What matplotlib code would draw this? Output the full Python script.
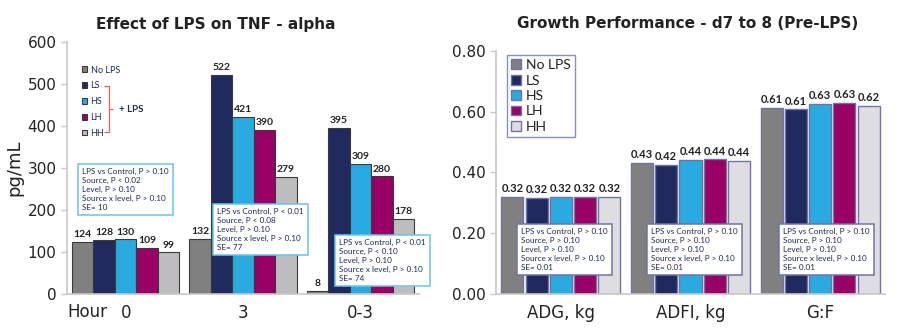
import matplotlib

matplotlib.use("Agg")
import matplotlib.pyplot as plt
import numpy as np

# --- data -------------------------------------------------------------------
treatments = ["No LPS", "LS", "HS", "LH", "HH"]

tnf_hours = ["0", "3", "0-3"]
tnf_no_lps = [124, 132, 8]
tnf_ls = [128, 522, 395]
tnf_hs = [130, 421, 309]
tnf_lh = [109, 390, 280]
tnf_hh = [99, 279, 178]

growth_traits = ["ADG, kg", "ADFI, kg", "G:F"]
growth_no_lps = [0.32, 0.432, 0.612]
growth_ls = [0.316, 0.424, 0.608]
growth_hs = [0.32, 0.442, 0.626]
growth_lh = [0.32, 0.443, 0.628]
growth_hh = [0.32, 0.437, 0.619]

tnf_stats = [
    ["LPS vs Control, P > 0.10", "Source, P < 0.02", "Level, P > 0.10",
     "Source x level, P > 0.10", "SE= 10"],
    ["LPS vs Control, P < 0.01", "Source, P < 0.08", "Level, P > 0.10",
     "Source x level, P > 0.10", "SE= 77"],
    ["LPS vs Control, P < 0.01", "Source, P < 0.10", "Level, P > 0.10",
     "Source x level, P > 0.10", "SE= 74"],
]
growth_stats = [
    ["LPS vs Control, P > 0.10", "Source, P > 0.10", "Level, P > 0.10",
     "Source x level, P > 0.10", "SE= 0.01"],
] * 3

# --- style ------------------------------------------------------------------
NAVY = "#1f2a5c"
left_colors = ["#808080", "#202a5e", "#29abe2", "#990066", "#bdbdc0"]
right_colors = ["#808080", "#202a5e", "#29abe2", "#990066", "#dedde2"]
SPINE = "#c8c8c8"
TXT = "#222222"
STAT_SIZE = 5.9

fig = plt.figure(figsize=(9, 3.34), dpi=100)
W, H = 900, 334


def px_axes(x0, y0, x1, y1):
    return fig.add_axes([x0 / W, 1 - y1 / H, (x1 - x0) / W, (y1 - y0) / H])


def style_axes(ax):
    for side in ("top", "right"):
        ax.spines[side].set_visible(False)
    for side in ("left", "bottom"):
        ax.spines[side].set_color(SPINE)
        ax.spines[side].set_linewidth(1.2)
    ax.tick_params(axis="y", colors=SPINE, length=4, width=1, labelcolor=TXT, labelsize=11)
    ax.tick_params(axis="x", length=0, labelcolor=TXT, labelsize=12, pad=7)
    ax.set_xlim(-0.5, 2.5)


def stat_box(bx, by, lines, edge):
    fig.text(bx / W, 1 - by / H, "\n".join(lines), fontsize=STAT_SIZE, family="Lato",
             color=NAVY, ha="left", va="top", linespacing=1.32, zorder=5,
             bbox=dict(boxstyle="square,pad=0.5", fc="white", ec=edge, lw=1.1))


# --- left: TNF-alpha --------------------------------------------------------
axl = px_axes(67, 42, 419, 294)
style_axes(axl)
tnf_series = [tnf_no_lps, tnf_ls, tnf_hs, tnf_lh, tnf_hh]
x = np.arange(len(tnf_hours))
bw = 0.183
for i, (name, vals) in enumerate(zip(treatments, tnf_series)):
    pos = x + (i - 2) * bw
    axl.bar(pos, vals, width=bw, color=left_colors[i], edgecolor="#3a3a3a",
            linewidth=0.8, label=name, zorder=2)
    for xp, v in zip(pos, vals):
        axl.annotate(f"{v}", (xp, v), xytext=(0, 2), textcoords="offset points",
                     ha="center", va="bottom", fontsize=7.5, fontweight="bold",
                     family="Lato", color=TXT)
axl.set_ylim(0, 600)
axl.set_yticks(range(0, 601, 100))
axl.set_xticks(x)
axl.set_xticklabels(tnf_hours)
axl.set_ylabel("pg/mL", fontsize=13, color=TXT, labelpad=3)
fig.text(67 / W, 1 - 312 / H, "Hour", fontsize=12, color=TXT, ha="left", va="center")

leg = axl.legend(loc="upper left", bbox_to_anchor=(0.031, 0.921), frameon=False,
                 borderaxespad=0, handlelength=0.6, handleheight=0.6, handletextpad=0.4,
                 labelspacing=0.75, prop={"family": "Lato", "size": 6.5})
for t in leg.get_texts():
    t.set_color(NAVY)

# red brace marking the +LPS group
brace = dict(color="#f0605a", lw=0.9, solid_capstyle="butt")
bx0, bx1, bxt = 104 / W, 109 / W, 113 / W
by0, by1, bym = 1 - 86 / H, 1 - 132 / H, 1 - 109 / H
fig.add_artist(plt.Line2D([bx0, bx1, bx1, bx0], [by0, by0, by1, by1], **brace))
fig.add_artist(plt.Line2D([bx1, bxt], [bym, bym], **brace))
fig.text(119 / W, bym, "+ LPS", fontsize=7, fontweight="bold", family="Lato",
         color=NAVY, ha="left", va="center")

for (bx, by), lines in zip([(82, 168), (217, 208), (339, 239)], tnf_stats):
    stat_box(bx, by, lines, "#6cc4ea")

fig.text(216 / W, 1 - 24 / H, "Effect of LPS on TNF - alpha", fontsize=11,
         fontweight="bold", color=TXT, ha="center", va="center")

# --- right: growth performance ----------------------------------------------
axr = px_axes(496, 51, 885, 294)
style_axes(axr)
growth_series = [growth_no_lps, growth_ls, growth_hs, growth_lh, growth_hh]
bw = 0.17
step = 0.187
for i, (name, vals) in enumerate(zip(treatments, growth_series)):
    pos = x + (i - 2) * step
    axr.bar(pos, vals, width=bw, color=right_colors[i], edgecolor="#6f74a3",
            linewidth=1, label=name, zorder=2)
    for xp, v in zip(pos, vals):
        axr.annotate(f"{v:.2f}", (xp, v), xytext=(0, 2), textcoords="offset points",
                     ha="center", va="bottom", fontsize=8, fontweight="bold",
                     family="Lato", color=TXT)
axr.set_ylim(0, 0.8)
axr.set_yticks(np.arange(0, 0.81, 0.2))
axr.set_yticklabels([f"{v:.2f}" for v in np.arange(0, 0.81, 0.2)])
axr.set_xticks(x)
axr.set_xticklabels(growth_traits)

legr = axr.legend(loc="upper left", bbox_to_anchor=(0.028, 0.984), frameon=True,
                  fancybox=False, borderaxespad=0, handlelength=0.7, handleheight=0.7,
                  handletextpad=0.35, labelspacing=0.25, borderpad=0.3,
                  prop={"family": "Lato", "size": 10})
legr.get_frame().set_edgecolor("#6f74a3")
legr.get_frame().set_linewidth(1)
for t in legr.get_texts():
    t.set_color(TXT)

for (bx, by), lines in zip([(521, 228), (651, 228), (783, 228)], growth_stats):
    stat_box(bx, by, lines, "#6f74a3")

fig.text(688 / W, 1 - 24 / H, "Growth Performance - d7 to 8 (Pre-LPS)", fontsize=11,
         fontweight="bold", color=TXT, ha="center", va="center")

fig.savefig("out.png", dpi=100)
